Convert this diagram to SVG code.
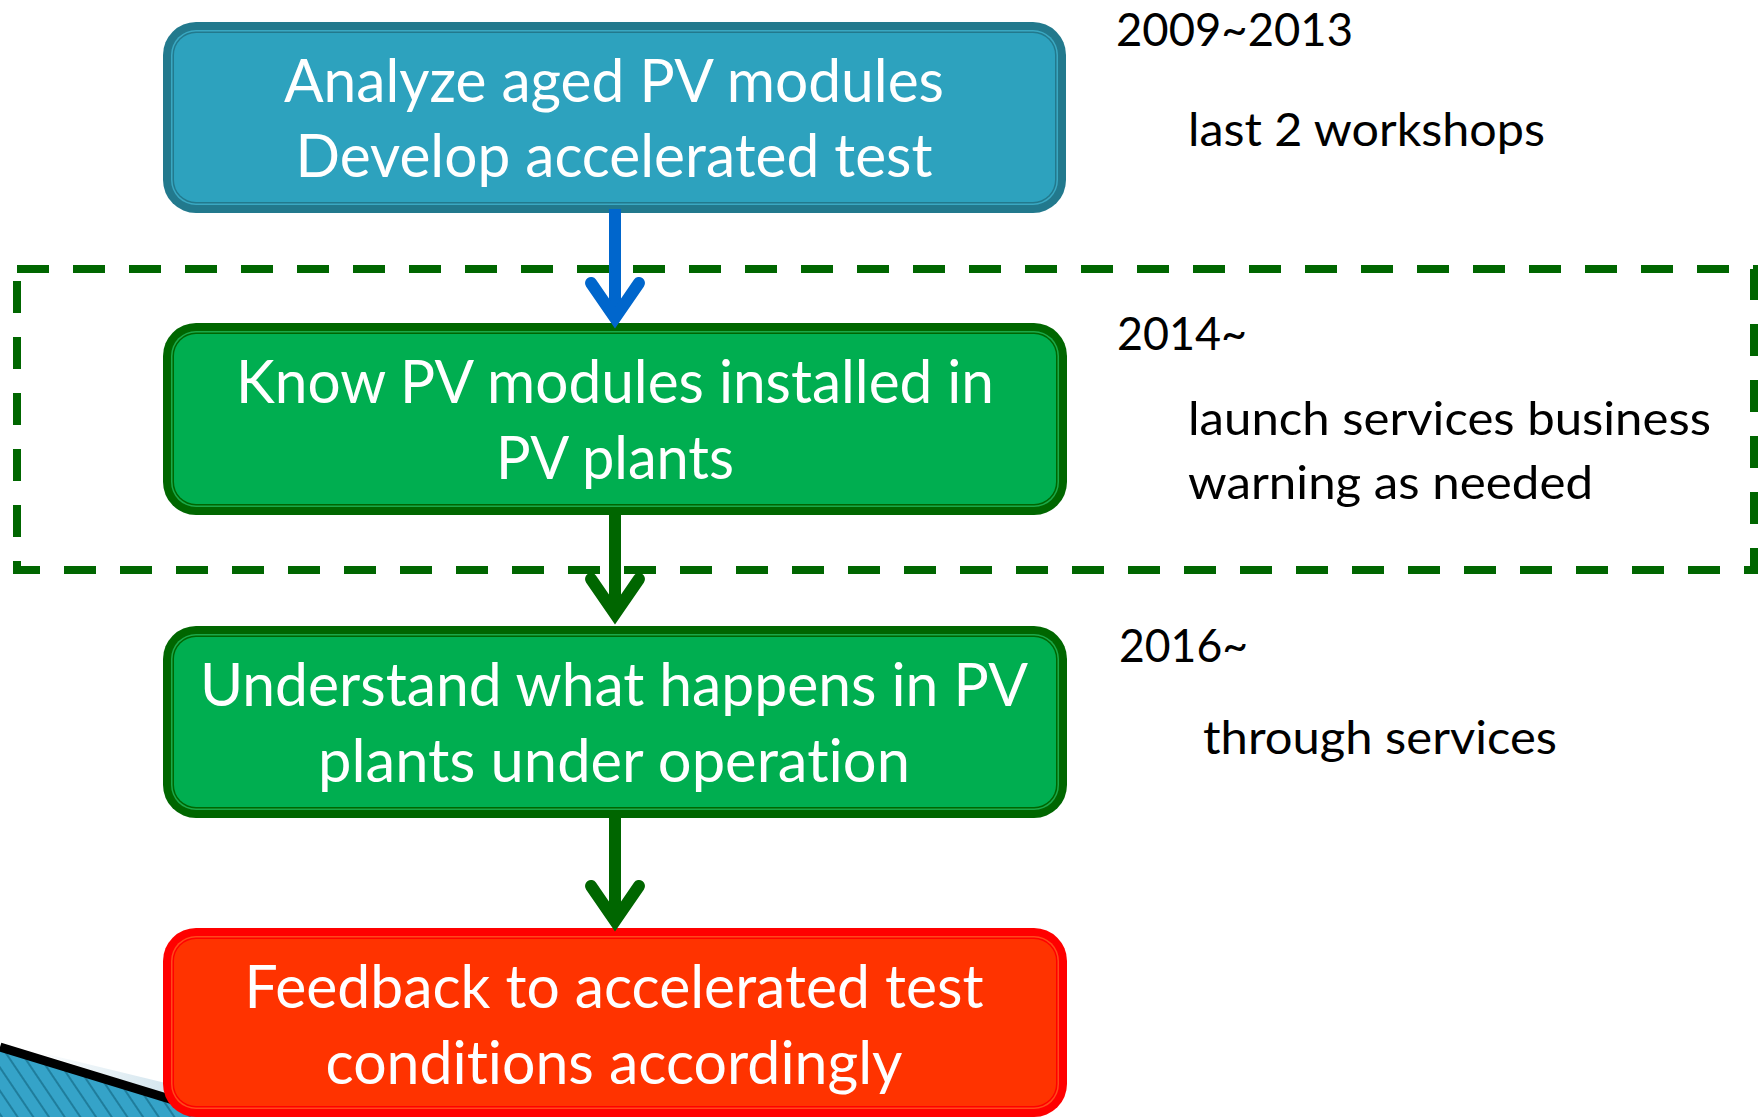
<svg xmlns="http://www.w3.org/2000/svg" width="1762" height="1117" viewBox="0 0 1762 1117">
<style>
.bt{font-family:Lato,"Open Sans","Liberation Sans",sans-serif;font-size:60px;fill:#ffffff;text-anchor:middle;font-variant-ligatures:none;font-feature-settings:"liga" 0,"clig" 0}
.rt{font-family:Lato,"Open Sans","Liberation Sans",sans-serif;font-size:47px;fill:#000000;font-variant-ligatures:none;font-feature-settings:"liga" 0,"clig" 0}
.ln{fill:none;stroke-width:12;stroke-linecap:butt}
.hd{fill:none;stroke-width:12;stroke-linecap:round;stroke-linejoin:miter;stroke-miterlimit:10}
</style>
<defs>
<pattern id="stripes" width="13" height="13" patternUnits="userSpaceOnUse" patternTransform="rotate(-34)">
<rect width="13" height="13" fill="#35a3c8"/>
<rect width="2" height="13" fill="#1f7d9c"/>
</pattern>
<linearGradient id="lite" x1="0" y1="0" x2="1" y2="0">
<stop offset="0" stop-color="#ffffff"/>
<stop offset="1" stop-color="#c4dce8"/>
</linearGradient>
</defs>
<rect width="1762" height="1117" fill="#ffffff"/>
<g id="decor">
<polygon points="30,1050 219,1096 219,1112" fill="url(#lite)"/>
<polygon points="0,1050 219,1118 219,1117 0,1117" fill="url(#stripes)"/>
<line x1="0" y1="1047" x2="219" y2="1114" stroke="#000000" stroke-width="9"/>
</g>
<g id="group-2014">
<rect x="17" y="269" width="1737" height="301" fill="none" stroke="#006600" stroke-width="8" stroke-dasharray="32 24"/>
</g>
<g id="node-analyze">
<rect x="163" y="22" width="903" height="191" rx="33" fill="#22798d"/>
<rect x="171" y="30" width="887" height="175" rx="25" fill="#3aa8c2"/>
<rect x="172.5" y="31.5" width="884" height="172" rx="23.5" fill="#22798d"/>
<rect x="174" y="33" width="881" height="169" rx="22" fill="#2da2be"/>
<text class="bt" x="614" y="102" textLength="660" lengthAdjust="spacingAndGlyphs">Analyze aged PV modules</text>
<text class="bt" x="614" y="177" textLength="637" lengthAdjust="spacingAndGlyphs">Develop accelerated test</text>
</g>
<g id="node-know">
<rect x="163" y="323" width="904" height="192" rx="33" fill="#006600"/>
<rect x="171" y="331" width="888" height="176" rx="25" fill="#1aa84a"/>
<rect x="172.5" y="332.5" width="885" height="173" rx="23.5" fill="#006600"/>
<rect x="174" y="334" width="882" height="170" rx="22" fill="#00ae50"/>
<text class="bt" x="615" y="403" textLength="758" lengthAdjust="spacingAndGlyphs">Know PV modules installed in</text>
<text class="bt" x="615" y="479" textLength="238" lengthAdjust="spacingAndGlyphs">PV plants</text>
</g>
<g id="node-understand">
<rect x="163" y="626" width="904" height="192" rx="33" fill="#006600"/>
<rect x="171" y="634" width="888" height="176" rx="25" fill="#1aa84a"/>
<rect x="172.5" y="635.5" width="885" height="173" rx="23.5" fill="#006600"/>
<rect x="174" y="637" width="882" height="170" rx="22" fill="#00ae50"/>
<text class="bt" x="614" y="706" textLength="828" lengthAdjust="spacingAndGlyphs">Understand what happens in PV</text>
<text class="bt" x="614" y="782" textLength="592" lengthAdjust="spacingAndGlyphs">plants under operation</text>
</g>
<g id="node-feedback">
<rect x="163" y="928" width="904" height="189" rx="33" fill="#ff0000"/>
<rect x="171" y="936" width="888" height="173" rx="25" fill="#ff4a1a"/>
<rect x="172.5" y="937.5" width="885" height="170" rx="23.5" fill="#ff0000"/>
<rect x="174" y="939" width="882" height="167" rx="22" fill="#ff3300"/>
<text class="bt" x="614" y="1008" textLength="739" lengthAdjust="spacingAndGlyphs">Feedback to accelerated test</text>
<text class="bt" x="614" y="1084" textLength="577" lengthAdjust="spacingAndGlyphs">conditions accordingly</text>
</g>
<g id="connectors">
<line class="ln" x1="615" y1="209" x2="615" y2="316" stroke="#0066cc"/>
<polyline class="hd" points="591,283 615,318 639,283" stroke="#0066cc"/>
<line class="ln" x1="615" y1="513" x2="615" y2="613" stroke="#006600"/>
<polyline class="hd" points="591,579 615,614 639,579" stroke="#006600"/>
<line class="ln" x1="615" y1="816" x2="615" y2="918" stroke="#006600"/>
<polyline class="hd" points="591,886 615,921 639,886" stroke="#006600"/>
</g>
<g id="labels">
<text class="rt" x="1116" y="46" textLength="237" lengthAdjust="spacingAndGlyphs">2009~2013</text>
<text class="rt" x="1188" y="146" textLength="357" lengthAdjust="spacingAndGlyphs">last 2 workshops</text>
<text class="rt" x="1117" y="350" textLength="130" lengthAdjust="spacingAndGlyphs">2014~</text>
<text class="rt" x="1188" y="435" textLength="523" lengthAdjust="spacingAndGlyphs">launch services business</text>
<text class="rt" x="1188" y="499" textLength="405" lengthAdjust="spacingAndGlyphs">warning as needed</text>
<text class="rt" x="1119" y="662" textLength="129" lengthAdjust="spacingAndGlyphs">2016~</text>
<text class="rt" x="1203" y="754" textLength="354" lengthAdjust="spacingAndGlyphs">through services</text>
</g>
</svg>
